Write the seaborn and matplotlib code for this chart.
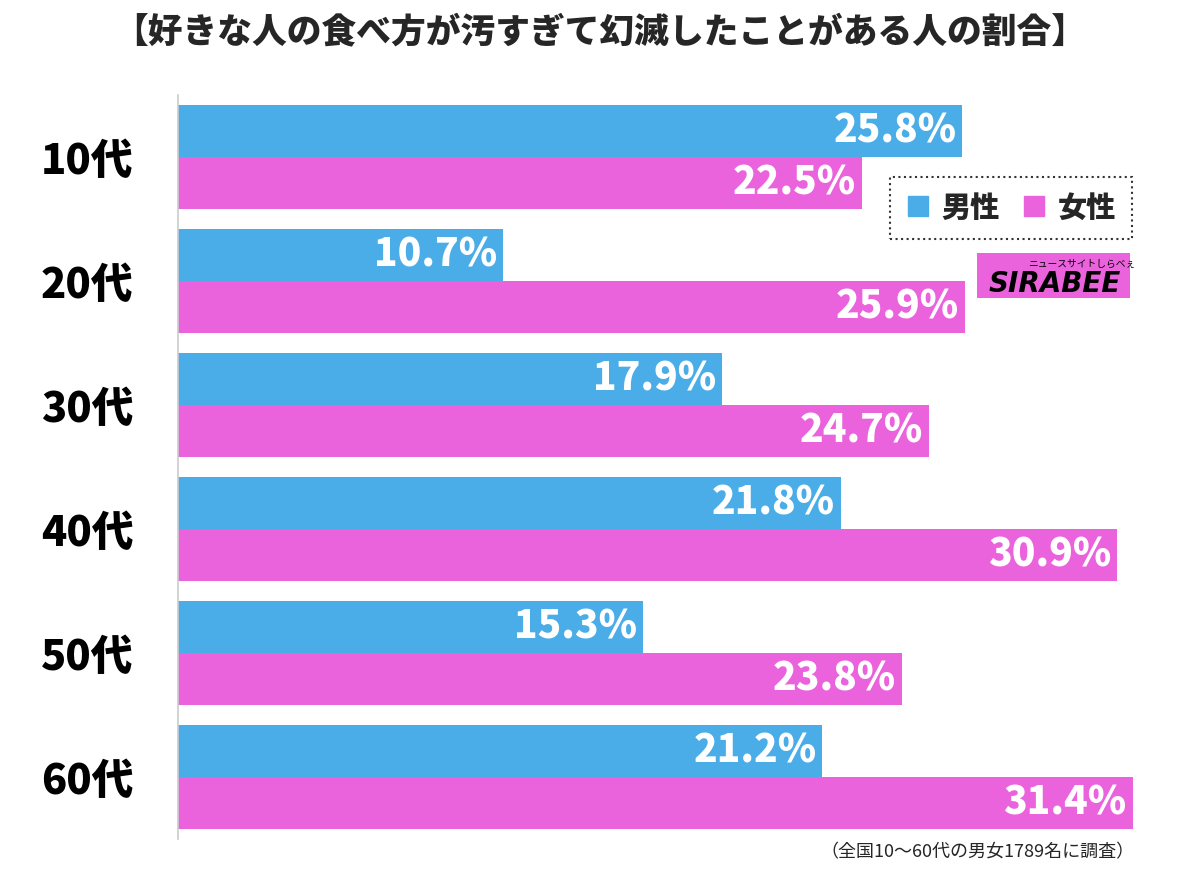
import matplotlib
matplotlib.use('Agg')
import matplotlib.pyplot as plt
from matplotlib.lines import Line2D
from matplotlib.patches import Rectangle
import seaborn as sns
import pandas as pd

# data
ages = ['10代', '20代', '30代', '40代', '50代', '60代']
male = [25.8, 10.7, 17.9, 21.8, 15.3, 21.2]
female = [22.5, 25.9, 24.7, 30.9, 23.8, 31.4]
series = ['男性', '女性']
colors = ['#4BADE8', '#EB62DD']

title = '【好きな人の食べ方が汚すぎて幻滅したことがある人の割合】'
note = '（全国10～60代の男女1789名に調査）'

df = pd.DataFrame({
    'age': ages * 2,
    'value': male + female,
    'sex': [series[0]] * len(ages) + [series[1]] * len(ages),
})

sns.set_style('white')
plt.rcParams['font.family'] = ['Noto Sans CJK JP', 'DejaVu Sans']

fig = plt.figure(figsize=(12, 8.71), dpi=100)
ax = fig.add_axes([0.1483, 0.0367, 0.8183, 0.8540])

sns.barplot(data=df, y='age', x='value', hue='sex', orient='h',
            palette=colors, width=0.84, saturation=1, linewidth=0,
            ax=ax, legend=False)

# value labels inside bar ends
for cont in ax.containers:
    for bar in cont:
        w = bar.get_width()
        ax.text(w - 0.2, bar.get_y() + bar.get_height() / 2, f'{w:.1f}%',
                ha='right', va='center', color='white', fontsize=28,
                fontweight='heavy')

ax.set_xlim(0, 32.3)
ax.set_ylim(5.5, -0.5)
ax.set_xlabel('')
ax.set_ylabel('')
ax.set_xticks([])
ax.tick_params(axis='y', length=0, pad=32)
for lbl in ax.get_yticklabels():
    lbl.set_fontsize(30)
    lbl.set_fontweight('heavy')
    lbl.set_color('black')
for s in ['top', 'right', 'bottom']:
    ax.spines[s].set_visible(False)
ax.spines['left'].set_color('#cccccc')
ax.spines['left'].set_linewidth(1.2)

# legend
handles = [Line2D([], [], marker='s', linestyle='', markersize=15,
                  markerfacecolor=c, markeredgecolor=c) for c in colors]
leg = ax.legend(handles, series, loc='upper right',
                bbox_to_anchor=(1132 / 1200, (871 - 177) / 871),
                bbox_transform=fig.transFigure, ncol=2, fontsize=21,
                handlelength=0.8, handletextpad=0.4, columnspacing=0.8,
                borderpad=0.55, borderaxespad=0,
                fancybox=False, frameon=True)
fr = leg.get_frame()
fr.set_linestyle(':')
fr.set_edgecolor('black')
fr.set_linewidth(1.5)
for t in leg.get_texts():
    t.set_fontweight('heavy')

# logo
fig.patches.append(Rectangle((977 / 1200, (871 - 298) / 871), 153 / 1200,
                             45 / 871, transform=fig.transFigure,
                             facecolor='#EB62DD', edgecolor='none'))
fig.text(1055 / 1200, (871 - 284) / 871, 'SIRABEE', ha='center', va='center',
         fontsize=20, fontweight='heavy', style='italic', color='black',
         family='DejaVu Sans')
fig.text(1082 / 1200, (871 - 264) / 871, 'ニュースサイトしらべぇ', ha='center',
         va='center', fontsize=7, color='black')

fig.text(0.5, (871 - 32) / 871, title, ha='center', va='center',
         fontsize=25, fontweight='heavy')
fig.text(1135 / 1200, (871 - 852) / 871, note, ha='right', va='center',
         fontsize=13)

fig.savefig('out.png', dpi=100)
